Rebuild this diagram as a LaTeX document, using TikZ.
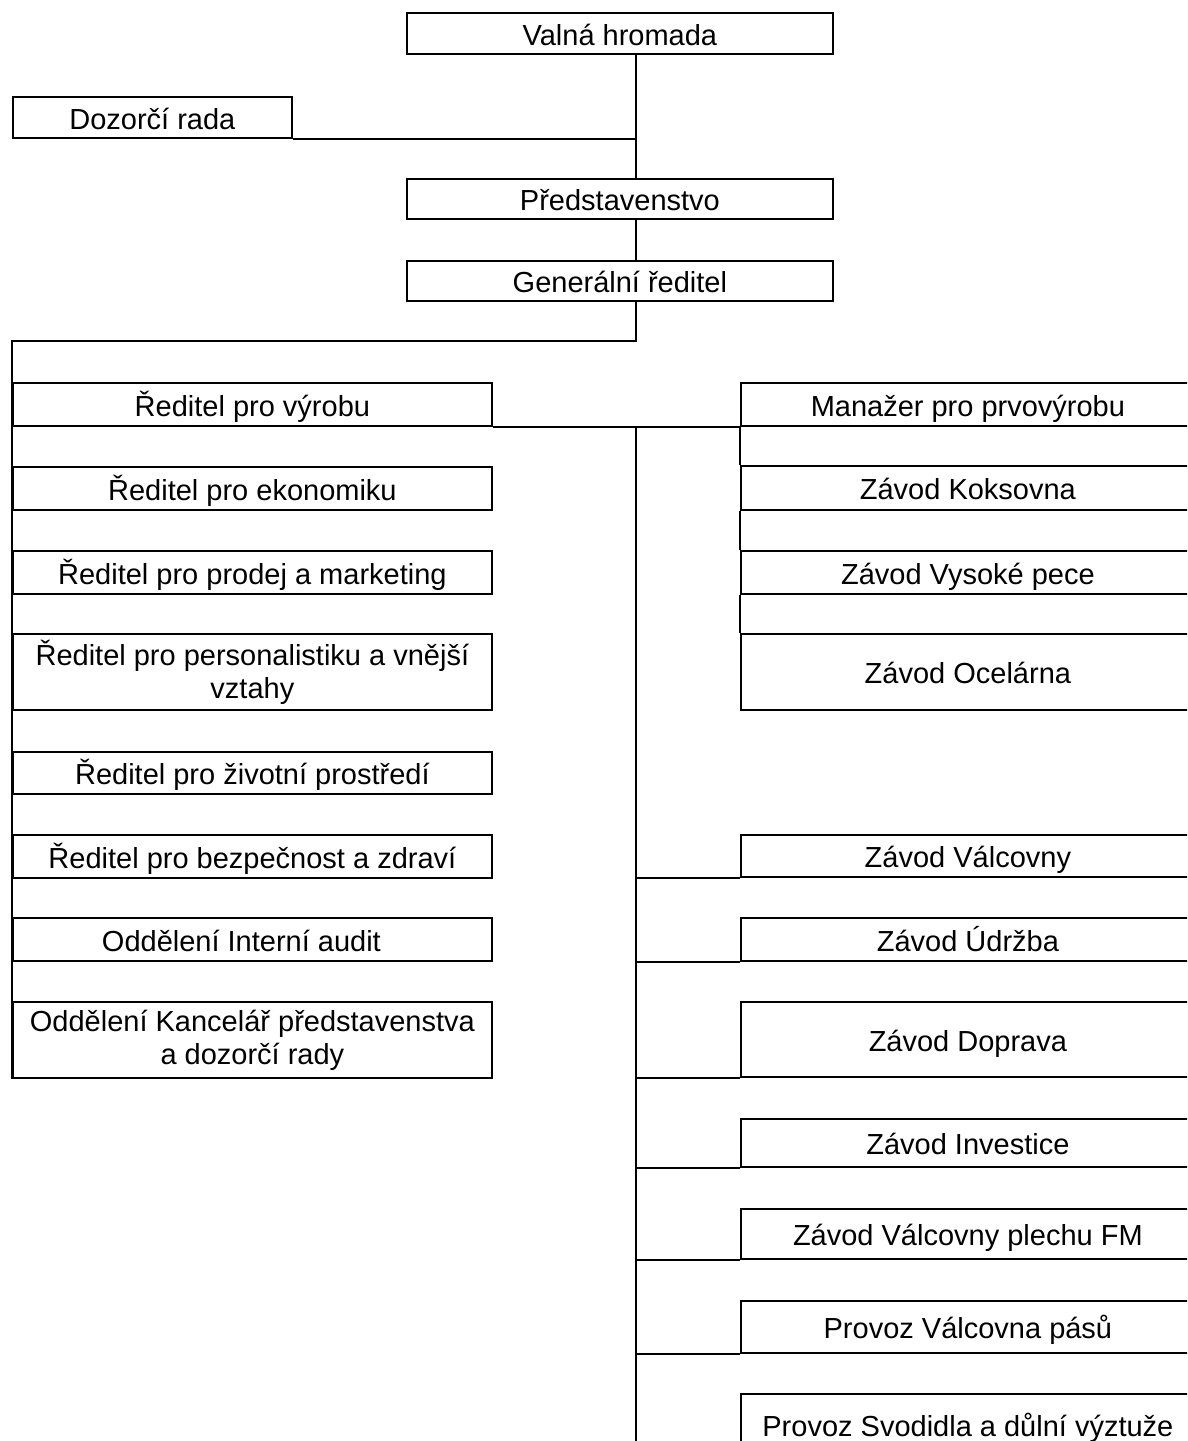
\documentclass[tikz,border=0pt]{standalone}
\usepackage{fontspec}
\setmainfont{Liberation Sans}
\begin{document}
\begin{tikzpicture}[x=1pt,y=-1pt,line width=1.8pt,
  box/.style={draw, inner sep=0pt, anchor=north west, align=center,
    font=\fontsize{29}{33}\selectfont, line width=1.8pt},
  one/.style={box, text height=24pt, text depth=0pt},
  conn/.style={draw, line width=1.8pt}]
\clip (0,0) rectangle (1187,1441);
% top
\node[one, minimum width=426pt, minimum height=41pt] (valna) at (406,12) {Valná hromada};
\node[one, minimum width=279pt, minimum height=41pt] (dozor) at (12,96) {Dozorčí rada};
\node[one, minimum width=426pt, minimum height=40pt] (pred) at (406,178) {Představenstvo};
\node[one, minimum width=426pt, minimum height=40pt] (gen) at (406,260) {Generální ředitel};
% left column
\node[one, minimum width=479pt, minimum height=43pt] (vyr) at (12,382) {Ředitel pro výrobu};
\node[one, minimum width=479pt, minimum height=43pt] (eko) at (12,466) {Ředitel pro ekonomiku};
\node[one, minimum width=479pt, minimum height=43pt] (prod) at (12,550) {Ředitel pro prodej a marketing};
\node[box, minimum width=479pt, minimum height=76pt] (pers) at (12,633) {Ředitel pro personalistiku a vnější\\vztahy};
\node[one, minimum width=479pt, minimum height=42pt] (ziv) at (12,751) {Ředitel pro životní prostředí};
\node[one, minimum width=479pt, minimum height=43pt] (bez) at (12,834) {Ředitel pro bezpečnost a zdraví};
\node[one, minimum width=479pt, minimum height=43pt] (audit) at (12,917) {Oddělení Interní audit\hspace*{22pt}};
\node[box, minimum width=479pt, minimum height=76pt] (kanc) at (12,1001) {Oddělení Kancelář představenstva\\a dozorčí rady};
% right column, upper
\node[one, minimum width=454pt, minimum height=43pt] (man) at (740,382) {Manažer pro prvovýrobu};
\node[one, minimum width=454pt, minimum height=44pt] (kok) at (740,465) {Závod Koksovna};
\node[one, minimum width=454pt, minimum height=43pt] (vys) at (740,550) {Závod Vysoké pece};
\node[one, minimum width=454pt, minimum height=76pt] (oce) at (740,633) {Závod Ocelárna};
% right column, lower
\node[one, minimum width=454pt, minimum height=42pt] (valc) at (740,834) {Závod Válcovny};
\node[one, minimum width=454pt, minimum height=43pt] (udr) at (740,917) {Závod Údržba};
\node[one, minimum width=454pt, minimum height=75pt] (dop) at (740,1001) {Závod Doprava};
\node[one, minimum width=454pt, minimum height=48pt] (inv) at (740,1118) {Závod Investice};
\node[one, minimum width=454pt, minimum height=50pt] (fm) at (740,1208) {Závod Válcovny plechu FM};
\node[one, minimum width=454pt, minimum height=52pt] (pasu) at (740,1300) {Provoz Válcovna pásů};
\node[one, minimum width=454pt, minimum height=62pt] (svod) at (740,1393) {Provoz Svodidla a důlní výztuže};
% connectors
\coordinate (tx) at (636,0);
\coordinate (lj) at (12,341);
\coordinate (bot) at (636,1445);
\draw[conn] (valna.south -| tx) -- (pred.north -| tx);
\draw[conn] (dozor.south east) -- (dozor.south east -| tx);
\draw[conn] (pred.south -| tx) -- (gen.north -| tx);
\draw[conn] (gen.south -| tx) |- (lj) -- (kanc.south west);
\draw[conn] (vyr.south east) -- (man.south west);
\draw[conn] (vyr.south -| tx) -- (bot);
\draw[conn] (man.south west) -- (kok.north west);
\draw[conn] (kok.south west) -- (vys.north west);
\draw[conn] (vys.south west) -- (oce.north west);
\foreach \n in {valc,udr,dop,inv,fm,pasu}
  \draw[conn] (\n.south west -| tx) -- (\n.south west);
\end{tikzpicture}
\end{document}
